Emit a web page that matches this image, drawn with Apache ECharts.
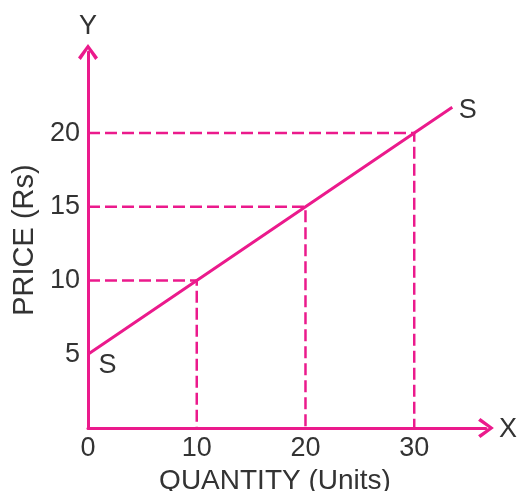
<!DOCTYPE html>
<html>
<head>
<meta charset="utf-8">
<script src="https://cdn.jsdelivr.net/npm/echarts@6/dist/echarts.min.js"></script>
<style>html,body{margin:0;padding:0;background:#fff}#c{width:517px;height:491px}</style>
</head>
<body>
<div id="c"></div>
<script>
// Data
const supplyQty = [0, 10, 20, 30, 33.5];
const supplyPrice = [5, 10, 15, 20, 21.75];
const supplyLabels = ['S', '', '', '', 'S'];
const guideQty = [10, 20, 30];
const guidePrice = [10, 15, 20];
const xTicks = [0, 10, 20, 30];
const yTicks = [5, 10, 15, 20];
const xName = 'QUANTITY (Units)';
const yName = 'PRICE (Rs)';
const xAxisLetter = 'X';
const yAxisLetter = 'Y';
const xMax = 36.6;
const yMax = 25.5;

const PINK = '#EB1A8C';
const TXT = '#333333';
const FONT = '"Liberation Sans", Arial, Helvetica, sans-serif';
const chevron = 'path://M10 0 L20 13.5 L17.2 15.8 L10 5.2 L2.8 15.8 L0 13.5 Z';

const chart = echarts.init(document.getElementById('c'), null, {renderer: 'canvas'});

const series = [];
guideQty.forEach((q, i) => {
  const p = guidePrice[i];
  series.push({
    type: 'line',
    data: [[0, p], [q, p], [q, 0]],
    showSymbol: false,
    symbol: 'none',
    silent: true,
    lineStyle: {color: PINK, width: 2.5, type: [12, 5]},
    z: 2
  });
});
series.push({
  type: 'line',
  data: supplyQty.map((q, i) => ({
    value: [q, supplyPrice[i]],
    label: {
      show: supplyLabels[i] !== '',
      formatter: supplyLabels[i],
      position: 'right',
      distance: 0,
      offset: i === 0 ? [10, 11] : [6, 3],
      color: TXT,
      fontSize: 27,
      fontFamily: FONT
    }
  })),
  symbol: 'circle',
  symbolSize: 1,
  showSymbol: true,
  itemStyle: {color: 'rgba(0,0,0,0)', borderWidth: 0},
  lineStyle: {color: PINK, width: 3},
  silent: true,
  z: 3
});

chart.setOption({
  animation: false,
  backgroundColor: '#fff',
  grid: {left: 88, right: 517 - 486, top: 52, bottom: 63, containLabel: false, outerBoundsMode: 'none'},
  xAxis: {
    type: 'value', min: 0, max: xMax, interval: 10,
    name: xName, nameLocation: 'middle', nameGap: 30,
    nameTextStyle: {color: TXT, fontSize: 28, fontFamily: FONT, padding: [0, 24, 0, 0]},
    axisLine: {show: true, onZero: false, lineStyle: {color: PINK, width: 3},
      symbol: ['none', chevron], symbolSize: [20, 18]},
    axisTick: {show: false},
    splitLine: {show: false},
    axisLabel: {color: TXT, fontSize: 27, fontFamily: FONT, margin: 7,
      showMaxLabel: false,
      formatter: v => xTicks.includes(v) ? String(v) : ''}
  },
  yAxis: {
    type: 'value', min: 0, max: yMax, interval: 5,
    name: yName, nameLocation: 'middle', nameGap: 46, nameRotate: 90,
    nameTextStyle: {color: TXT, fontSize: 29, fontFamily: FONT},
    axisLine: {show: true, onZero: false, lineStyle: {color: PINK, width: 3},
      symbol: ['none', chevron], symbolSize: [20, 18]},
    axisTick: {show: false},
    splitLine: {show: false},
    axisLabel: {color: TXT, fontSize: 27, fontFamily: FONT, margin: 8,
      showMaxLabel: false,
      formatter: v => yTicks.includes(v) ? String(v) : ''}
  },
  series: series
});

const topPt = chart.convertToPixel({gridIndex: 0}, [0, yMax]);
const endPt = chart.convertToPixel({gridIndex: 0}, [xMax, 0]);
chart.setOption({
  graphic: [
    {type: 'text', x: topPt[0], y: topPt[1] - 25,
      style: {text: yAxisLetter, fill: TXT, font: '27px ' + FONT, textAlign: 'center', textVerticalAlign: 'middle'}},
    {type: 'text', x: endPt[0] + 22, y: endPt[1] + 2,
      style: {text: xAxisLetter, fill: TXT, font: '27px ' + FONT, textAlign: 'center', textVerticalAlign: 'middle'}}
  ]
});
</script>
</body>
</html>
